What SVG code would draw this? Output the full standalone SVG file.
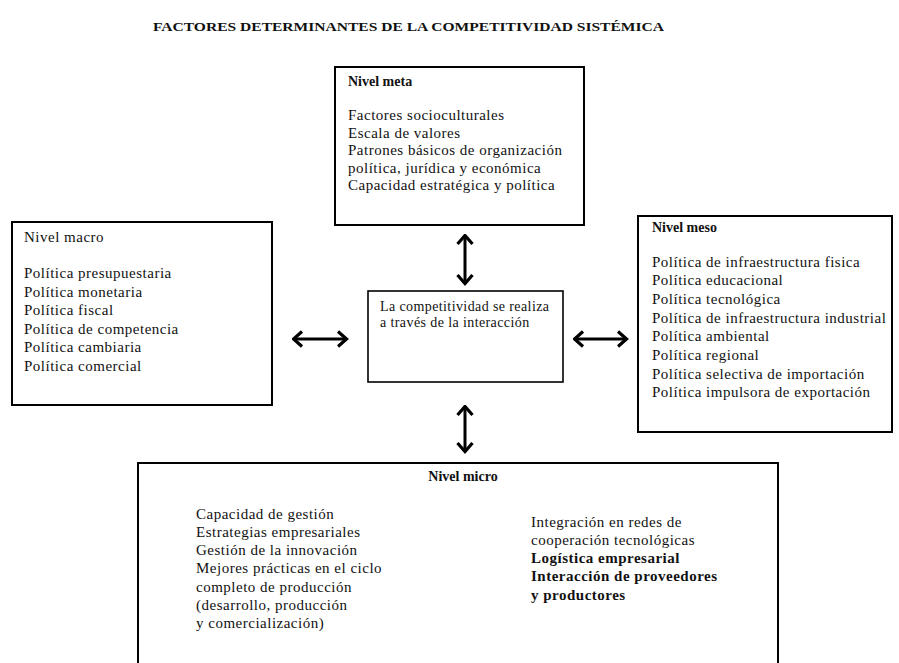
<svg xmlns="http://www.w3.org/2000/svg" width="899" height="663" viewBox="0 0 899 663">
<style>
  .bg { fill: #ffffff; }
  .box { fill: #ffffff; stroke: #000000; stroke-width: 2; }
  .cbox { fill: #ffffff; stroke: #000000; stroke-width: 1.6; }
  text { font-family: "Liberation Serif", "DejaVu Serif", "Times New Roman", serif; fill: #111111; }
  .t { font-size: 15px; letter-spacing: 0.5px; }
  .tc { font-size: 14px; letter-spacing: 0.4px; }
  .h { font-size: 14px; font-weight: bold; }
  .b { font-size: 15px; font-weight: bold; letter-spacing: 0.5px; }
  .title { font-size: 13.5px; font-weight: bold; }
  .arrow { stroke: #000000; stroke-width: 3; fill: none; marker-start: url(#chev); marker-end: url(#chev); }
</style>
<defs>
  <marker id="chev" markerUnits="userSpaceOnUse" viewBox="0 0 12 18" markerWidth="12" markerHeight="18" refX="10.5" refY="9" orient="auto-start-reverse">
    <path d="M1.5,1.5 L10,9 L1.5,16.5" fill="none" stroke="#000000" stroke-width="3.2" stroke-linejoin="miter"/>
  </marker>
</defs>
<rect class="bg" x="0" y="0" width="899" height="663"/>

<text class="title" x="153" y="31" textLength="511" lengthAdjust="spacingAndGlyphs">FACTORES DETERMINANTES DE LA COMPETITIVIDAD SISTÉMICA</text>

<g id="meta">
  <rect class="box" x="335" y="67" width="249" height="158"/>
  <text class="h" x="348" y="86">Nivel meta</text>
  <text class="t" x="348" y="120">Factores socioculturales</text>
  <text class="t" x="348" y="137.5">Escala de valores</text>
  <text class="t" x="348" y="155">Patrones básicos de organización</text>
  <text class="t" x="348" y="172.5">política, jurídica y económica</text>
  <text class="t" x="348" y="190">Capacidad estratégica y política</text>
</g>

<g id="macro">
  <rect class="box" x="12" y="222" width="260" height="183"/>
  <text class="t" x="24" y="242">Nivel macro</text>
  <text class="t" x="24" y="278">Política presupuestaria</text>
  <text class="t" x="24" y="296.5">Política monetaria</text>
  <text class="t" x="24" y="315">Política fiscal</text>
  <text class="t" x="24" y="333.5">Política de competencia</text>
  <text class="t" x="24" y="352">Política cambiaria</text>
  <text class="t" x="24" y="370.5">Política comercial</text>
</g>

<g id="meso">
  <rect class="box" x="638" y="216" width="254" height="216"/>
  <text class="h" x="652" y="232">Nivel meso</text>
  <text class="t" x="652" y="266.5">Política de infraestructura fisica</text>
  <text class="t" x="652" y="285.2">Política educacional</text>
  <text class="t" x="652" y="303.9">Política tecnológica</text>
  <text class="t" x="652" y="322.6">Política de infraestructura industrial</text>
  <text class="t" x="652" y="341.3">Política ambiental</text>
  <text class="t" x="652" y="360">Política regional</text>
  <text class="t" x="652" y="378.7">Política selectiva de importación</text>
  <text class="t" x="652" y="397.4">Política impulsora de exportación</text>
</g>

<g id="centro">
  <rect class="cbox" x="368" y="291" width="195" height="91"/>
  <text class="tc" x="380" y="311">La competitividad se realiza</text>
  <text class="tc" x="380" y="327">a través de la interacción</text>
</g>

<g id="micro">
  <path class="box" d="M138,670 L138,463 L778,463 L778,670"/>
  <text class="h" x="463" y="481" text-anchor="middle">Nivel micro</text>
  <text class="t" x="196" y="518.5">Capacidad de gestión</text>
  <text class="t" x="196" y="536.8">Estrategias empresariales</text>
  <text class="t" x="196" y="555.1">Gestión de la innovación</text>
  <text class="t" x="196" y="573.4">Mejores prácticas en el ciclo</text>
  <text class="t" x="196" y="591.7">completo de producción</text>
  <text class="t" x="196" y="610">(desarrollo, producción</text>
  <text class="t" x="196" y="628.3">y comercialización)</text>
  <text class="t" x="531" y="526.5">Integración en redes de</text>
  <text class="t" x="531" y="544.8">cooperación tecnológicas</text>
  <text class="b" x="531" y="563.1">Logística empresarial</text>
  <text class="b" x="531" y="581.4">Interacción de proveedores</text>
  <text class="b" x="531" y="599.7">y productores</text>
</g>

<g id="connectors">
  <line class="arrow" x1="465" y1="235" x2="465" y2="284"/>
  <line class="arrow" x1="465" y1="406" x2="465" y2="452"/>
  <line class="arrow" x1="293" y1="339" x2="347" y2="339"/>
  <line class="arrow" x1="574" y1="339" x2="627" y2="339"/>
</g>
</svg>
